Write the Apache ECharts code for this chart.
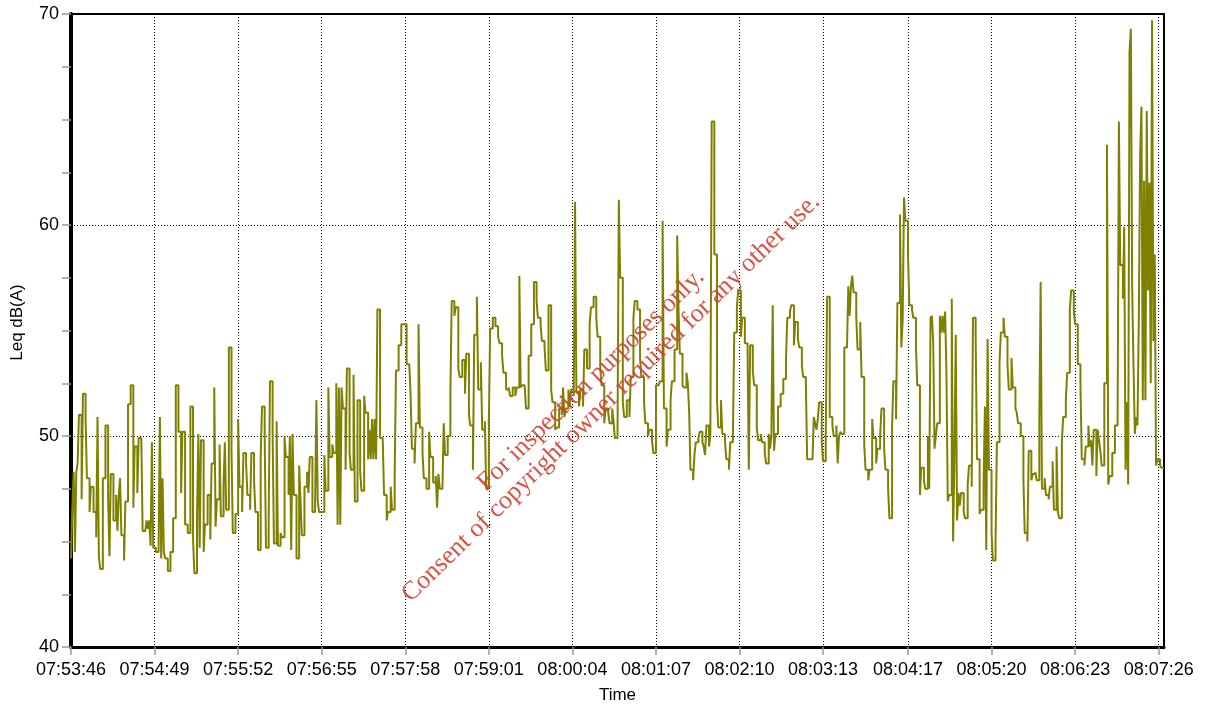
<!DOCTYPE html>
<html>
<head>
<meta charset="utf-8">
<script src="https://cdn.jsdelivr.net/npm/echarts@6/dist/echarts.min.js"></script>
<style>
  html, body { margin: 0; padding: 0; background: #fff; }
  #chart { width: 1206px; height: 709px; }
</style>
</head>
<body>
<div id="chart"></div>
<script>
// tick labels of the time axis
const timeLabels = ['07:53:46', '07:54:49', '07:55:52', '07:56:55', '07:57:58', '07:59:01', '08:00:04',
  '08:01:07', '08:02:10', '08:03:13', '08:04:17', '08:05:20', '08:06:23', '08:07:26'];

// Leq dB(A), one value per second from 07:53:46
const leq0 = [
  44.2, 46.6, 48.3, 44.5, 48.3, 48.7, 51.0, 51.0, 47.0, 52.0,
  52.0, 50.8, 48.0, 48.0, 46.4, 47.6, 47.6, 46.4, 46.4, 45.2,
  50.9, 44.3, 43.7, 43.7, 48.0, 48.0, 50.5, 50.5, 47.0, 44.3,
  48.2, 48.2, 46.0, 46.0, 47.2, 45.5, 47.2, 48.0, 45.3, 45.3,
  44.1, 46.9, 46.9, 51.5, 51.5, 52.4, 52.4, 46.6, 49.5, 49.5,
  47.3, 49.9, 49.9, 49.9, 45.5, 45.5, 45.5, 46.0, 45.6, 46.0,
  44.8, 49.7, 44.7, 44.7, 44.5, 44.5, 44.5, 50.9, 44.2, 48.0,
  44.5, 44.2, 44.2, 43.6, 43.6, 44.5, 44.5, 46.1, 46.1, 52.4,
  52.4, 50.2, 50.2, 47.3, 50.2, 50.2, 45.8, 45.8, 45.4, 45.4,
  51.4, 51.4, 45.1, 43.5, 43.5, 46.2, 50.1, 44.7, 49.8, 49.8,
  44.5, 45.8, 45.8, 47.2, 47.2, 45.1, 48.7, 48.7, 52.3, 45.7,
  47.0, 47.0, 49.6, 46.2, 46.2, 47.7, 49.7, 46.5, 46.5, 54.2,
  54.2, 49.3, 45.4, 45.4, 46.3, 46.3, 50.8, 47.6, 47.6, 46.4,
  49.2, 49.2, 48.7, 47.2, 47.2, 46.5, 49.2, 49.2, 47.9, 46.4,
  46.4, 44.6, 44.6, 49.0, 51.4, 51.4, 50.0, 44.7, 44.7, 45.9,
  52.6, 52.6, 50.1, 44.9, 44.9, 50.7, 44.8, 44.8, 45.4, 45.2,
  45.2, 50.0, 49.0, 49.0, 47.2, 50.0, 44.6, 50.1, 47.2, 47.2,
  44.2, 44.2, 48.6, 47.0, 45.3, 45.3, 47.6, 47.6, 48.3, 47.3,
  49.0, 49.0, 46.4, 46.4, 46.6, 51.7, 46.9, 46.4, 46.4, 46.4,
  46.4, 49.1, 47.4, 47.4, 52.3, 49.0, 49.0, 49.6, 49.2, 49.2
];
const leq1 = [
  52.5, 45.8, 52.3, 45.8, 52.3, 51.3, 51.3, 48.4, 53.2, 53.2,
  49.2, 48.4, 48.4, 52.9, 46.9, 46.9, 51.7, 51.7, 48.3, 47.4,
  47.4, 51.9, 51.1, 51.1, 48.9, 50.3, 48.9, 50.8, 48.9, 50.8,
  48.9, 56.0, 56.0, 49.9, 49.9, 49.9, 47.2, 47.2, 46.0, 46.4,
  46.4, 47.6, 46.5, 46.5, 48.1, 53.1, 53.1, 54.3, 54.3, 55.3,
  55.3, 55.3, 55.3, 53.4, 53.4, 53.4, 52.0, 49.4, 49.4, 48.7,
  50.6, 50.6, 55.3, 50.4, 50.4, 49.2, 48.0, 48.0, 47.5, 47.5,
  50.2, 49.0, 49.0, 47.8, 47.8, 48.1, 46.6, 48.2, 47.5, 47.5,
  47.5, 50.6, 49.1, 49.1, 50.0, 50.0, 52.0, 56.4, 56.4, 55.7,
  56.1, 56.1, 53.2, 52.8, 52.8, 53.6, 53.6, 52.0, 53.9, 53.9,
  51.0, 50.5, 50.5, 48.4, 54.8, 54.8, 56.6, 52.2, 52.2, 53.5,
  50.3, 50.3, 50.7, 47.5, 47.5, 50.7, 55.1, 55.1, 55.6, 55.6,
  55.2, 55.2, 54.7, 54.4, 54.4, 53.8, 53.0, 53.0, 52.2, 52.2,
  52.3, 51.9, 51.9, 52.3, 52.3, 51.9, 52.3, 52.3, 57.6, 52.3,
  52.4, 52.4, 52.4, 51.3, 51.3, 53.8, 53.8, 55.3, 55.3, 57.3,
  57.3, 56.4, 55.6, 55.6, 55.3, 54.5, 54.5, 54.2, 53.1, 53.1,
  56.2, 56.2, 52.2, 51.6, 51.6, 50.3, 50.4, 50.4, 51.3, 51.3,
  51.0, 52.3, 50.9, 51.3, 51.3, 52.2, 51.4, 52.2, 52.2, 51.9,
  61.1, 52.1, 52.1, 51.4, 52.2, 52.2, 51.4, 54.1, 54.1, 53.2,
  53.2, 55.3, 56.1, 56.1, 56.6, 56.6, 55.6, 54.7, 54.7, 53.2
];
const leq2 = [
  52.4, 52.4, 50.6, 51.3, 51.3, 51.1, 50.6, 50.6, 51.3, 50.7,
  49.9, 49.9, 49.9, 61.2, 57.5, 57.5, 51.6, 50.9, 50.9, 51.7,
  51.7, 50.9, 52.8, 52.8, 55.6, 56.4, 56.4, 56.0, 56.0, 53.7,
  52.8, 52.8, 51.6, 50.6, 50.6, 50.0, 50.3, 50.3, 49.8, 49.2,
  49.2, 52.4, 52.4, 52.4, 52.6, 52.6, 60.2, 51.3, 51.3, 49.5,
  50.3, 50.3, 51.7, 52.6, 52.6, 54.1, 54.1, 59.5, 56.0, 53.9,
  53.9, 52.4, 52.3, 52.3, 53.0, 52.5, 51.2, 48.4, 48.4, 47.9,
  49.1, 49.7, 49.7, 49.9, 50.2, 50.2, 49.7, 49.5, 49.1, 50.5,
  50.5, 49.5, 50.0, 64.9, 64.9, 58.6, 58.6, 51.7, 50.4, 50.4,
  51.7, 50.1, 50.1, 49.8, 48.9, 48.9, 48.4, 49.7, 49.7, 50.0,
  54.9, 54.9, 56.1, 56.9, 56.9, 54.7, 55.6, 55.6, 54.4, 54.4,
  54.4, 48.4, 54.3, 54.3, 53.1, 52.4, 52.4, 50.4, 49.8, 49.8,
  50.1, 49.7, 49.7, 49.2, 48.7, 48.7, 50.1, 49.4, 50.0, 56.2,
  49.3, 50.1, 50.1, 51.4, 51.4, 52.0, 52.0, 52.7, 52.7, 53.6,
  55.6, 55.6, 55.9, 56.2, 56.2, 54.3, 55.4, 55.4, 54.6, 54.2,
  54.2, 53.3, 52.8, 52.8, 52.5, 48.9, 48.9, 48.9, 48.9, 48.9,
  50.9, 50.6, 50.3, 50.8, 51.6, 51.6, 49.7, 48.8, 48.8, 49.9,
  56.6, 56.6, 50.9, 50.9, 50.5, 50.0, 50.0, 50.5, 48.7, 50.0,
  50.2, 50.1, 50.1, 54.2, 54.2, 54.2, 57.1, 55.7, 57.1, 57.6,
  56.8, 56.8, 55.6, 54.1, 54.1, 55.4, 52.8, 52.8, 49.6, 48.4
];
const leq3 = [
  48.4, 47.9, 48.4, 48.4, 50.8, 49.9, 49.9, 48.7, 49.4, 49.4,
  50.0, 51.3, 51.3, 49.4, 48.4, 48.4, 47.5, 46.1, 46.1, 50.5,
  52.6, 52.6, 50.8, 56.3, 56.3, 60.5, 54.2, 55.5, 61.3, 60.2,
  60.2, 58.6, 56.2, 56.2, 56.0, 55.6, 55.6, 54.2, 52.4, 52.4,
  47.2, 48.5, 48.5, 47.9, 47.5, 47.5, 50.0, 47.5, 55.6, 55.7,
  54.5, 49.4, 50.0, 50.6, 50.6, 55.7, 54.9, 55.7, 54.9, 55.9,
  52.9, 46.9, 47.2, 47.2, 56.5, 45.0, 49.0, 54.8, 46.0, 47.3,
  46.7, 47.3, 47.3, 46.4, 46.1, 46.1, 47.7, 48.6, 48.6, 47.6,
  55.6, 55.6, 54.7, 48.9, 48.9, 46.3, 46.5, 46.5, 47.8, 51.4,
  44.6, 54.6, 48.4, 48.4, 45.4, 44.1, 44.1, 45.0, 49.7, 49.7,
  53.5, 54.9, 54.9, 55.6, 54.7, 54.7, 53.4, 52.2, 52.2, 53.7,
  52.3, 52.3, 51.3, 51.1, 50.6, 50.6, 50.0, 50.0, 48.0, 45.4,
  45.4, 45.0, 49.3, 49.3, 47.9, 48.2, 48.2, 48.3, 47.9, 47.9,
  50.7, 57.3, 47.5, 47.5, 48.0, 47.2, 47.2, 47.0, 47.6, 47.6,
  48.8, 46.5, 46.5, 49.5, 46.4, 46.1, 46.1, 49.7, 50.9, 50.9,
  51.7, 53.0, 53.0, 56.0, 56.9, 56.9, 55.9, 55.3, 55.3, 53.4,
  53.4, 52.5, 48.9, 48.9, 48.6, 49.5, 49.5, 50.5, 49.5, 49.8,
  48.6, 50.3, 50.3, 48.1, 50.3, 49.8, 49.3, 48.6, 48.6, 52.5,
  52.5, 63.8, 47.7, 48.1, 48.1, 49.2, 49.2, 50.5, 50.5, 50.5,
  64.9, 58.1, 58.1, 56.5, 59.9, 48.4, 51.6, 47.7, 68.2, 69.3,
  57.0, 53.4, 50.1, 50.9, 50.5, 55.5, 63.3, 65.6, 51.7, 62.1,
  51.7, 65.4, 56.9, 62.0, 52.5, 69.7, 54.5, 58.6, 48.6, 48.9,
  48.9, 48.6, 48.5, 48.5, 48.5
];

const toSec = s => {
  const p = s.split(':').map(Number);
  return p[0] * 3600 + p[1] * 60 + p[2];
};
const startSec = toSec(timeLabels[0]);
const tickSec = timeLabels.map(s => toSec(s) - startSec);
const pad = n => (n < 10 ? '0' : '') + n;
const fmtTime = v => {
  const s = Math.round(startSec + v);
  return pad(Math.floor(s / 3600)) + ':' + pad(Math.floor(s / 60) % 60) + ':' + pad(s % 60);
};

const leq = leq0.concat(leq1, leq2, leq3);
const lineData = leq.map((v, i) => [i, v]);

const font = '"Liberation Sans", Arial, sans-serif';
const serif = '"Liberation Serif", "Times New Roman", serif';
const dotted = { color: '#000', width: 1, type: [1, 2] };
const tickStyle = { color: '#999', width: 1.5 };
const stampColor = 'rgba(214,62,48,0.9)';

const chart = echarts.init(document.getElementById('chart'));
chart.setOption({
  animation: false,
  backgroundColor: '#fff',
  grid: {
    left: 71, right: 42, top: 14, bottom: 57,
    show: true, borderColor: '#000', borderWidth: 2
  },
  xAxis: {
    type: 'value',
    min: 0,
    max: leq.length - 1,
    name: 'Time',
    nameLocation: 'middle',
    nameGap: 40,
    nameTextStyle: { fontSize: 17, color: '#000', fontFamily: font },
    axisLine: { show: true, onZero: false, lineStyle: { color: '#000', width: 3 } },
    axisTick: { show: true, customValues: tickSec, length: 8, lineStyle: tickStyle },
    axisLabel: {
      customValues: tickSec, formatter: fmtTime,
      fontSize: 18, color: '#000', margin: 14, fontFamily: font
    },
    splitLine: { show: true, lineStyle: dotted }
  },
  yAxis: {
    type: 'value',
    min: 40,
    max: 70,
    interval: 10,
    name: 'Leq dB(A)',
    nameLocation: 'middle',
    nameGap: 45,
    nameTextStyle: { fontSize: 17, color: '#000', fontFamily: font, padding: [0, 0, 0, 16] },
    axisLine: { show: true, onZero: false, lineStyle: { color: '#000', width: 4 } },
    axisTick: { show: true, length: 9, lineStyle: tickStyle },
    minorTick: { show: true, splitNumber: 4, length: 9, lineStyle: tickStyle },
    axisLabel: { fontSize: 18, color: '#000', margin: 12, fontFamily: font },
    splitLine: { show: true, lineStyle: dotted }
  },
  series: [{
    type: 'line',
    step: 'end',
    data: lineData,
    showSymbol: false,
    symbol: 'none',
    lineStyle: { color: '#808000', width: 2 },
    z: 3
  }],
  graphic: [
    {
      type: 'text', x: 591, y: 380, rotation: 0.773, z: 100,
      style: {
        text: 'For inspection purposes only.',
        fontSize: 26, fontFamily: serif, fill: stampColor,
        textAlign: 'center', textVerticalAlign: 'middle', align: 'center', verticalAlign: 'middle'
      }
    },
    {
      type: 'text', x: 611, y: 398, rotation: 0.773, z: 100,
      style: {
        text: 'Consent of copyright owner required for any other use.',
        fontSize: 26, fontFamily: serif, fill: stampColor,
        textAlign: 'center', textVerticalAlign: 'middle', align: 'center', verticalAlign: 'middle'
      }
    }
  ]
});
</script>
</body>
</html>
